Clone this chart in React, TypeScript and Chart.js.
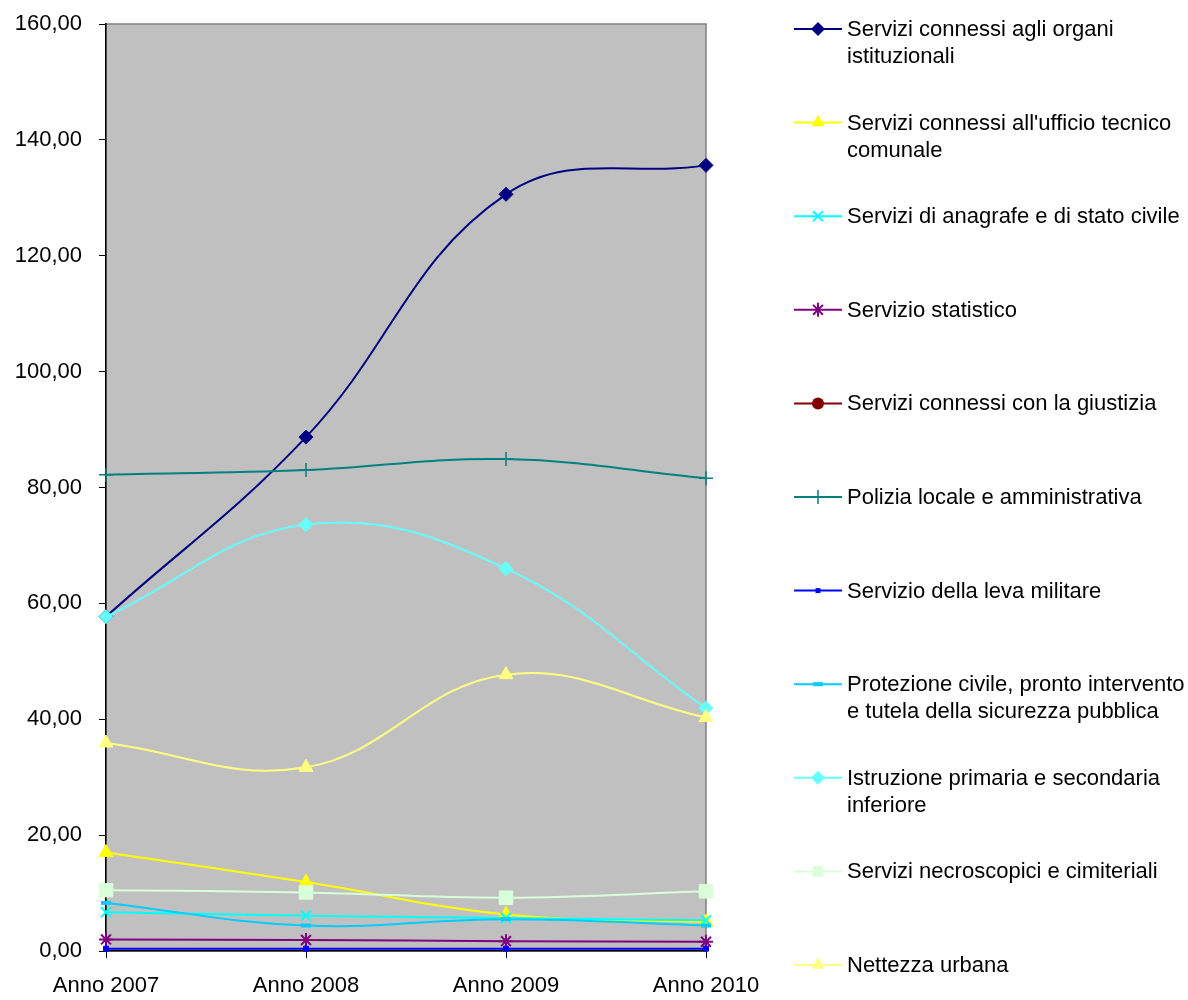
import React, { useEffect, useRef } from "react";
import { Chart, registerables } from "chart.js";

Chart.register(...registerables);

const categories = ["Anno 2007", "Anno 2008", "Anno 2009", "Anno 2010"];

const seriesNames = [
  "Servizi connessi agli organi istituzionali",
  "Servizi connessi all'ufficio tecnico comunale",
  "Servizi di anagrafe e di stato civile",
  "Servizio statistico",
  "Servizi connessi con la giustizia",
  "Polizia locale e amministrativa",
  "Servizio della leva militare",
  "Protezione civile, pronto intervento e tutela della sicurezza pubblica",
  "Istruzione primaria e secondaria inferiore",
  "Servizi necroscopici e cimiteriali",
  "Nettezza urbana",
];

const organiIstituzionali = [57.7, 88.7, 130.6, 135.6];
const ufficioTecnico = [17.0, 11.9, 6.3, 5.0];
const anagrafe = [6.7, 6.1, 5.7, 5.3];
const statistico = [2.0, 1.9, 1.7, 1.6];
const giustizia: (number | null)[] = [null, null, null, null];
const poliziaLocale = [82.2, 83.0, 84.9, 81.6];
const levaMilitare = [0.4, 0.4, 0.4, 0.4];
const protezioneCivile = [8.3, 4.4, 5.5, 4.4];
const istruzione = [57.7, 73.6, 66.0, 41.9];
const necroscopici = [10.5, 10.1, 9.2, 10.3];
const nettezzaUrbana = [35.9, 31.7, 47.7, 40.3];

const yTicks = [0, 20, 40, 60, 80, 100, 120, 140, 160];

const seriesValues = [
  organiIstituzionali,
  ufficioTecnico,
  anagrafe,
  statistico,
  giustizia,
  poliziaLocale,
  levaMilitare,
  protezioneCivile,
  istruzione,
  necroscopici,
  nettezzaUrbana,
];

const seriesColors = [
  "#000080",
  "#FFFF00",
  "#00FFFF",
  "#800080",
  "#800000",
  "#008080",
  "#0000FF",
  "#00CCFF",
  "#66FFFF",
  "#D9FFD9",
  "#FFFF80",
];

const seriesMarkers = [
  "rectRot",
  "triangle",
  "crossRot",
  "star",
  "circle",
  "cross",
  "rect",
  "line",
  "rectRot",
  "rect",
  "triangle",
];

const markerRadius = [7, 8, 7, 7, 6, 7, 3.5, 5, 7, 9.5, 8];
const markerBorder = [1, 1, 2, 2, 1, 1.5, 1, 4, 1, 1, 1];

const FONT = '"Liberation Sans", Arial, Helvetica, sans-serif';

function drawMarker(
  ctx: CanvasRenderingContext2D,
  style: string,
  x: number,
  y: number,
  r: number,
  color: string,
  bw: number
) {
  ctx.save();
  ctx.fillStyle = color;
  ctx.strokeStyle = color;
  ctx.lineWidth = bw;
  ctx.beginPath();
  if (style === "rectRot") {
    ctx.moveTo(x, y - r);
    ctx.lineTo(x + r, y);
    ctx.lineTo(x, y + r);
    ctx.lineTo(x - r, y);
    ctx.closePath();
    ctx.fill();
  } else if (style === "triangle") {
    ctx.moveTo(x, y - r);
    ctx.lineTo(x + r * 0.87, y + r * 0.5);
    ctx.lineTo(x - r * 0.87, y + r * 0.5);
    ctx.closePath();
    ctx.fill();
  } else if (style === "crossRot") {
    const d = r * 0.7;
    ctx.moveTo(x - d, y - d);
    ctx.lineTo(x + d, y + d);
    ctx.moveTo(x + d, y - d);
    ctx.lineTo(x - d, y + d);
    ctx.stroke();
  } else if (style === "star") {
    const d = r * 0.7;
    ctx.moveTo(x - d, y - d);
    ctx.lineTo(x + d, y + d);
    ctx.moveTo(x + d, y - d);
    ctx.lineTo(x - d, y + d);
    ctx.moveTo(x, y - r);
    ctx.lineTo(x, y + r);
    ctx.stroke();
  } else if (style === "circle") {
    ctx.arc(x, y, r, 0, Math.PI * 2);
    ctx.fill();
  } else if (style === "cross") {
    ctx.moveTo(x, y - r);
    ctx.lineTo(x, y + r);
    ctx.stroke();
  } else if (style === "rect") {
    const s = r * Math.SQRT1_2;
    ctx.rect(x - s, y - s, 2 * s, 2 * s);
    ctx.fill();
  } else if (style === "line") {
    ctx.moveTo(x - r, y);
    ctx.lineTo(x + r, y);
    ctx.stroke();
  }
  ctx.restore();
}

const plotBgPlugin = {
  id: "plotBg",
  beforeDraw(chart: any) {
    const { ctx, chartArea } = chart;
    ctx.save();
    ctx.fillStyle = "#C0C0C0";
    ctx.fillRect(chartArea.left, chartArea.top, chartArea.right - chartArea.left, chartArea.bottom - chartArea.top);
    ctx.strokeStyle = "#808080";
    ctx.lineWidth = 1.5;
    ctx.strokeRect(chartArea.left, chartArea.top, chartArea.right - chartArea.left, chartArea.bottom - chartArea.top);
    ctx.restore();
  },
};

const customLegendPlugin = {
  id: "customLegend",
  afterDraw(chart: any) {
    const ctx: CanvasRenderingContext2D = chart.ctx;
    ctx.save();
    ctx.font = `22px ${FONT}`;
    ctx.fillStyle = "#000";
    ctx.textBaseline = "middle";
    ctx.textAlign = "left";
    const lineX0 = 794;
    const lineX1 = 842;
    const textX = 847;
    const maxW = 342;
    seriesNames.forEach((name, i) => {
      const y = 29 + i * 93.6;
      ctx.save();
      ctx.strokeStyle = seriesColors[i];
      ctx.lineWidth = 2;
      ctx.beginPath();
      ctx.moveTo(lineX0, y);
      ctx.lineTo(lineX1, y);
      ctx.stroke();
      ctx.restore();
      drawMarker(ctx, seriesMarkers[i], (lineX0 + lineX1) / 2, y, Math.min(markerRadius[i], 7.5), seriesColors[i], markerBorder[i]);
      const words = name.split(" ");
      const lines: string[] = [];
      let cur = "";
      for (const w of words) {
        const test = cur ? cur + " " + w : w;
        if (ctx.measureText(test).width > maxW && cur) {
          lines.push(cur);
          cur = w;
        } else {
          cur = test;
        }
      }
      if (cur) lines.push(cur);
      lines.forEach((ln, k) => {
        ctx.fillText(ln, textX, y + 1 + k * 27);
      });
    });
    ctx.restore();
  },
};

export default function App() {
  const canvasRef = useRef<HTMLCanvasElement | null>(null);

  useEffect(() => {
    if (!canvasRef.current) return;
    const n = seriesNames.length;
    const chart = new Chart(canvasRef.current, {
      type: "line",
      data: {
        labels: categories,
        datasets: seriesNames.map((name, i) => ({
          label: name,
          data: seriesValues[i],
          borderColor: seriesColors[i],
          backgroundColor: seriesColors[i],
          borderWidth: 2,
          tension: 0.4,
          pointStyle: seriesMarkers[i] as any,
          pointRadius: markerRadius[i],
          pointBorderWidth: markerBorder[i],
          pointBorderColor: seriesColors[i],
          pointBackgroundColor: seriesColors[i],
          fill: false,
          clip: false as any,
          order: n - i,
        })),
      },
      options: {
        animation: false,
        responsive: false,
        maintainAspectRatio: false,
        layout: { padding: { top: 24, right: 482, left: 0, bottom: 0 } },
        plugins: {
          legend: { display: false },
          tooltip: { enabled: false },
        },
        scales: {
          x: {
            type: "category",
            offset: false,
            grid: {
              drawOnChartArea: false,
              drawTicks: true,
              tickLength: 7,
              color: "#000",
              lineWidth: 1,
            },
            border: { color: "#000", width: 1.5 },
            ticks: {
              color: "#000",
              font: { family: FONT, size: 22 },
              padding: 15,
              maxRotation: 0,
              autoSkip: false,
            },
            afterFit(scale: any) {
              scale.height = 49;
              scale.paddingLeft = 0;
              scale.paddingRight = 0;
            },
          },
          y: {
            min: 0,
            max: 160,
            afterBuildTicks(scale: any) {
              scale.ticks = yTicks.map((v) => ({ value: v }));
            },
            grid: {
              drawOnChartArea: false,
              drawTicks: true,
              tickLength: 7,
              color: "#000",
              lineWidth: 1,
            },
            border: { color: "#000", width: 1.5 },
            ticks: {
              color: "#000",
              font: { family: FONT, size: 22 },
              padding: 17,
              callback: (v: any) => Number(v).toFixed(2).replace(".", ","),
            },
            afterFit(scale: any) {
              scale.width = 106;
              scale.paddingTop = 0;
              scale.paddingBottom = 0;
            },
          },
        },
      },
      plugins: [plotBgPlugin, customLegendPlugin],
    });
    return () => chart.destroy();
  }, []);

  return (
    <div style={{ position: "absolute", left: 0, top: 0, width: 1188, height: 1000, background: "#fff" }}>
      <canvas ref={canvasRef} width={1188} height={1000} style={{ width: 1188, height: 1000, display: "block" }} />
    </div>
  );
}
